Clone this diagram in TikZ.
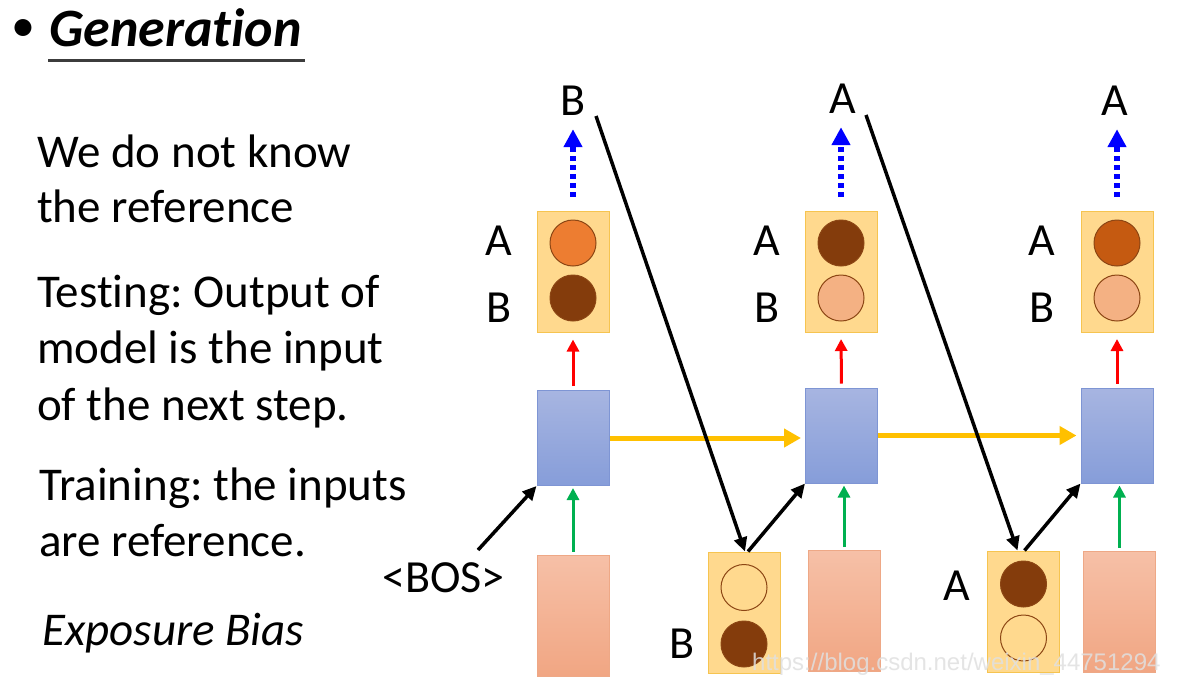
\documentclass[tikz,border=0pt]{standalone}
\usepackage{fontspec}
\setmainfont{Carlito}[Ligatures=NoCommon]
\newfontfamily\wmfont{Liberation Sans}
\usetikzlibrary{arrows.meta}
\frenchspacing
\definecolor{yfill}{RGB}{255,217,142}
\definecolor{ybord}{RGB}{246,196,80}
\definecolor{btop}{RGB}{167,181,225}
\definecolor{bbot}{RGB}{134,157,217}
\definecolor{bbord}{RGB}{126,149,212}
\definecolor{ptop}{RGB}{246,192,167}
\definecolor{pbot}{RGB}{241,166,131}
\definecolor{pbord}{RGB}{238,168,134}
\definecolor{corange}{RGB}{237,125,49}
\definecolor{cbrown}{RGB}{132,60,12}
\definecolor{cdark}{RGB}{197,90,17}
\definecolor{cpink}{RGB}{244,177,131}
\definecolor{cline}{RGB}{140,70,20}
\definecolor{bluec}{RGB}{0,0,255}
\definecolor{redc}{RGB}{255,0,0}
\definecolor{greenc}{RGB}{0,176,80}
\definecolor{yarrc}{RGB}{255,192,0}
\definecolor{ulc}{RGB}{60,60,60}
\begin{document}
\begin{tikzpicture}[x=1pt,y=-1pt,
  ybox/.style={rectangle,draw=ybord,fill=yfill,line width=1pt,minimum width=72pt,minimum height=121pt,inner sep=0pt},
  bbox/.style={rectangle,draw=bbord,top color=btop,bottom color=bbot,line width=1pt,minimum width=72pt,minimum height=95pt,inner sep=0pt},
  pbox/.style={rectangle,draw=pbord,top color=ptop,bottom color=pbot,line width=1pt,minimum width=72pt,minimum height=121pt,inner sep=0pt},
  dot/.style={circle,minimum size=46pt,inner sep=0pt,line width=1pt,draw=cline},
  lbl/.style={anchor=base,inner sep=0pt,font=\fontsize{46}{50}\selectfont},
  txt/.style={anchor=base west,inner sep=0pt,font=\fontsize{47}{50}\selectfont},
  bluearr/.style={draw=bluec,line width=6pt,dash pattern=on 5pt off 4pt,-{Triangle[width=18pt,length=18pt]}},
  redarr/.style={draw=redc,line width=3pt,-{Triangle[width=12pt,length=12pt]}},
  greenarr/.style={draw=greenc,line width=3pt,-{Triangle[width=12pt,length=12pt]}},
  yarr/.style={draw=yarrc,line width=5pt,-{Triangle[width=18pt,length=17pt]}},
  blk/.style={draw=black,line width=3.5pt,-{Triangle[width=13pt,length=14pt]}}
]
\useasboundingbox (0,0) rectangle (1196,689);
\fill[white] (0,0) rectangle (1196,689);

% title
\node[anchor=center,inner sep=0pt,font=\fontsize{48}{52}\selectfont] (bul) at (23,31) {•};
\node[anchor=base west,inner sep=0pt,font=\fontsize{54}{60}\selectfont\bfseries\itshape] (title) at (49,46) {Generation};
\draw[ulc,line width=3pt] (48,60) -- (305,60);

% left text
\node[txt] (l1) at (37,167) {We do not know};
\node[txt] (l2) at (37,222) {the reference};
\node[txt] (l3) at (37,307) {Testing: Output of};
\node[txt] (l4) at (37,363) {model is the input};
\node[txt] (l5) at (37,420) {of the next step.};
\node[txt] (l6) at (39,500) {Training: the inputs};
\node[txt] (l7) at (39,556) {are reference.};
\node[txt,font=\fontsize{47}{50}\selectfont\itshape] (l8) at (42,645) {Exposure Bias};

% column 1
\node[ybox] (o1) at (573,271.5) {};
\node[dot,fill=corange] (o1a) at (573,243) {};
\node[dot,fill=cbrown] (o1b) at (573,298) {};
\node[lbl] (la1) at (499,255) {A};
\node[lbl] (lb1) at (499,322) {B};
\node[lbl] (t1) at (573,115) {B};
\node[bbox] (b1) at (573,438) {};
\node[pbox] (p1) at (573,615.5) {};
\node[txt,font=\fontsize{46}{50}\selectfont] (bos) at (382,592) {<BOS>};

% column 2
\node[ybox] (i2) at (744,612.5) {};
\node[dot,fill=yfill] (i2a) at (744,587.5) {};
\node[dot,fill=cbrown] (i2b) at (744,644) {};
\node[lbl] (li2) at (682,658) {B};
\node[ybox] (o2) at (841,272) {};
\node[dot,fill=cbrown] (o2a) at (841,243) {};
\node[dot,fill=cpink] (o2b) at (841,298) {};
\node[lbl] (la2) at (767,255) {A};
\node[lbl] (lb2) at (767,322) {B};
\node[lbl] (t2) at (843,113) {A};
\node[bbox] (b2) at (841.5,435.5) {};
\node[pbox] (p2) at (844,611) {};

% column 3
\node[ybox] (i3) at (1023.5,611.5) {};
\node[dot,fill=cbrown] (i3a) at (1023.5,584) {};
\node[dot,fill=yfill] (i3b) at (1023.5,638) {};
\node[lbl] (li3) at (957,600) {A};
\node[ybox] (o3) at (1117,272) {};
\node[dot,fill=cdark] (o3a) at (1117,243) {};
\node[dot,fill=cpink] (o3b) at (1117,298) {};
\node[lbl] (la3) at (1042,255) {A};
\node[lbl] (lb3) at (1042,322) {B};
\node[lbl] (t3) at (1115,115) {A};
\node[bbox] (b3) at (1117,435.5) {};
\node[pbox] (p3) at (1119.5,611.5) {};

% vertical arrows
\draw[bluearr,shorten <=14pt,shorten >=14pt] (o1.north) -- (t1.south);
\draw[bluearr,shorten <=14pt,shorten >=14pt] (o2.north) -- (o2.north |- t2.south);
\draw[bluearr,shorten <=14pt,shorten >=14pt] (o3.north) -- (o3.north |- t3.south);
\draw[redarr,shorten <=4pt,shorten >=7pt] (b1.north) -- (o1.south);
\draw[redarr,shorten <=4pt,shorten >=6pt] (b2.north) -- (o2.south);
\draw[redarr,shorten <=4pt,shorten >=6pt] (b3.north) -- (o3.south);
\draw[greenarr,shorten <=3pt,shorten >=2pt] (p1.north) -- (b1.south);
\draw[greenarr,shorten <=3pt,shorten >=2pt] (p2.north) -- (p2.north |- b2.south);
\draw[greenarr,shorten <=3pt,shorten >=2pt] (p3.north) -- (p3.north |- b3.south);

% recurrent arrows
\draw[yarr,shorten >=4pt] (b1.east) -- (b1.east -| b2.west);
\draw[yarr,shorten >=4pt] (b2.east) -- (b3.west);

% feedback arrows
\coordinate (s0) at (478,550);
\coordinate (s1) at (596,116);
\coordinate (s2) at (866,115);
\draw[blk] (s0) -- (b1.south west);
\draw[blk] (s1) -- ([xshift=1pt]i2.north);
\draw[blk] ([xshift=4pt]i2.north) -- (b2.south west);
\draw[blk] (s2) -- ([xshift=-6pt]i3.north);
\draw[blk] ([xshift=1pt]i3.north) -- (b3.south west);

% watermark
\node[anchor=base west,inner sep=0pt,text=white!88!black,opacity=0.85,font=\wmfont\fontsize{24}{28}\selectfont] (wm) at (752,670) {https://blog.csdn.net/weixin\_44751294};
\end{tikzpicture}
\end{document}
